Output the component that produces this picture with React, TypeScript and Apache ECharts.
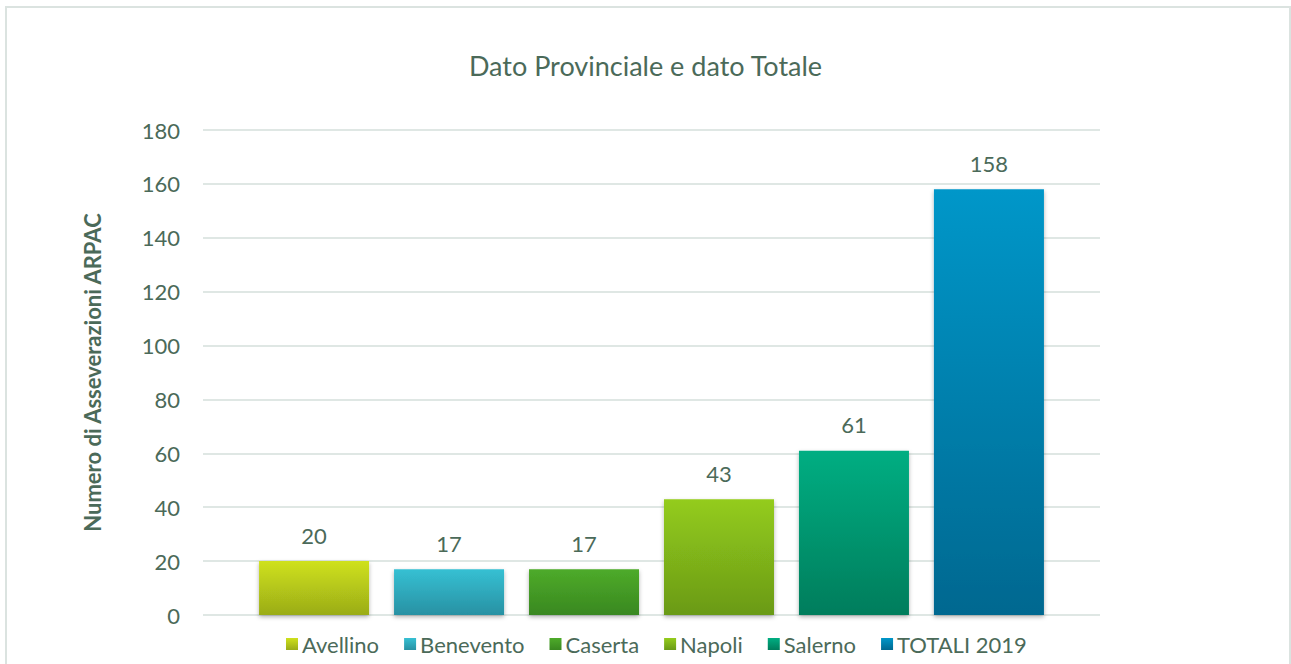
import React, { useEffect, useRef } from "react";
import * as echarts from "echarts";

const seriesNames = ["Avellino", "Benevento", "Caserta", "Napoli", "Salerno", "TOTALI 2019"];
const seriesValues = [20, 17, 17, 43, 61, 158];
const topColors = ["#cfe11c", "#36c0d3", "#4eab2a", "#94cc1c", "#00ae82", "#0097c9"];
const bottomColors = ["#9aac18", "#2891a3", "#398820", "#6a9a17", "#007d5c", "#006890"];
const yTicks = { min: 0, max: 180, interval: 20 };

const TEXT = "#4b6a59";
const FONT = "Lato";

export default function App() {
  const ref = useRef<HTMLDivElement>(null);
  useEffect(() => {
    if (!ref.current) return;
    const chart = echarts.init(ref.current, undefined, { renderer: "svg" });
    const series = seriesNames.map((name, i) => ({
      name,
      type: "bar",
      data: [seriesValues[i]],
      barGap: "22.7%",
      barCategoryGap: "12.5%",
      itemStyle: {
        color: new echarts.graphic.LinearGradient(0, 0, 0, 1, [
          { offset: 0, color: topColors[i] },
          { offset: 1, color: bottomColors[i] },
        ]),
        shadowColor: "rgba(0,0,0,0.3)",
        shadowBlur: 4,
        shadowOffsetY: 2,
      },
      label: {
        show: true,
        position: "top",
        distance: 15,
        color: TEXT,
        fontFamily: FONT,
        fontSize: 22,
      },
    }));
    chart.setOption({
      animation: false,
      backgroundColor: "#ffffff",
      title: {
        text: "Dato Provinciale e dato Totale",
        left: "center",
        top: 47,
        textStyle: { color: TEXT, fontFamily: FONT, fontSize: 27, fontWeight: "normal" },
      },
      graphic: [
        {
          type: "rect",
          shape: { x: 6, y: 7, width: 1284, height: 720 },
          style: { fill: "none", stroke: "#dbe3e0", lineWidth: 2 },
          silent: true,
        },
      ],
      legend: {
        bottom: 4,
        left: 281,
        icon: "rect",
        itemWidth: 12,
        itemHeight: 12,
        itemGap: 25,
        textStyle: { color: TEXT, fontFamily: FONT, fontSize: 22, padding: [0, 0, 0, -1] },
      },
      grid: { left: 203, right: 191, top: 130, bottom: 49, containLabel: false },
      xAxis: {
        type: "category",
        data: [""],
        axisLine: { show: false },
        axisTick: { show: false },
        axisLabel: { show: false },
      },
      yAxis: {
        type: "value",
        min: yTicks.min,
        max: yTicks.max,
        interval: yTicks.interval,
        name: "Numero di Asseverazioni ARPAC",
        nameLocation: "middle",
        nameGap: 100,
        nameTextStyle: { color: TEXT, fontFamily: FONT, fontSize: 22, fontWeight: "bold" },
        axisLine: { show: false },
        axisTick: { show: false },
        axisLabel: { color: TEXT, fontFamily: FONT, fontSize: 22, margin: 23 },
        splitLine: { lineStyle: { color: "#dfe7e4", width: 2 } },
      },
      series,
    });
    return () => chart.dispose();
  }, []);
  return (
    <div
      ref={ref}
      style={{ position: "fixed", left: 0, top: 0, width: 1291, height: 664 }}
    />
  );
}
